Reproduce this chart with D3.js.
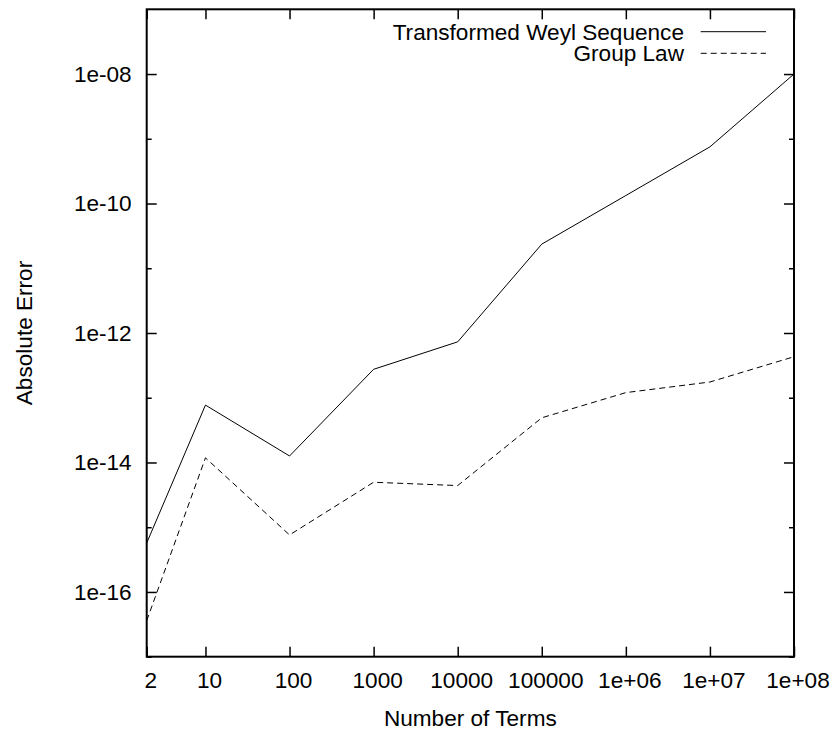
<!DOCTYPE html>
<html>
<head>
<meta charset="utf-8">
<script src="https://cdn.jsdelivr.net/npm/d3@7"></script>
<style>
  body { margin: 0; background: #fff; }
  svg { display: block; font-family: "Liberation Sans", Arial, Helvetica, sans-serif; }
  .axis text { font-size: 22.6px; fill: #000; }
  .axis line { stroke: #000; stroke-width: 1.5; }
</style>
</head>
<body>
<script>
const terms = [2, 10, 100, 1000, 10000, 100000, 1e6, 1e7, 1e8];
const termLabels = ["2", "10", "100", "1000", "10000", "100000", "1e+06", "1e+07", "1e+08"];
const weylError = [5.7e-16, 7.7e-14, 1.26e-14, 2.75e-13, 7.3e-13, 2.36e-11, 1.33e-10, 7.5e-10, 1.0e-8];
const groupLawError = [3.6e-17, 1.18e-14, 7.6e-16, 4.95e-15, 4.4e-15, 4.9e-14, 1.2e-13, 1.75e-13, 4.3e-13];
const yMajorTicks = [1e-16, 1e-14, 1e-12, 1e-10, 1e-8];
const yMinorTicks = [1e-17, 1e-15, 1e-13, 1e-11, 1e-9];
const seriesNames = ["Transformed Weyl Sequence", "Group Law"];

const width = 834;
const height = 731;
const plotLeft = 146.7, plotRight = 794, plotTop = 9.3, plotBottom = 656.7;

const svg = d3.select("body")
  .append("svg")
  .attr("width", width)
  .attr("height", height);

const x = d3.scaleLog().domain([2, 1e8]).range([plotLeft, plotRight]);
const y = d3.scaleLog().domain([1e-17, 1e-7]).range([plotBottom, plotTop]);

function expLabel(d) {
  const e = Math.round(Math.log10(d));
  const a = Math.abs(e);
  return "1e" + (e < 0 ? "-" : "+") + (a < 10 ? "0" + a : a);
}

// bottom axis with labels, ticks pointing inward
const xAxis = svg.append("g")
  .attr("class", "axis")
  .attr("transform", `translate(0,${plotBottom})`)
  .call(d3.axisBottom(x)
    .tickValues(terms)
    .tickFormat((d, i) => termLabels[i])
    .tickSizeInner(-10)
    .tickSizeOuter(0)
    .tickPadding(15.5));
xAxis.selectAll("text").attr("dx", 3.5);

svg.append("g")
  .attr("class", "axis")
  .attr("transform", `translate(0,${plotTop})`)
  .call(d3.axisTop(x).tickValues(terms).tickFormat("").tickSizeInner(-10).tickSizeOuter(0));

svg.append("g")
  .attr("class", "axis")
  .attr("transform", `translate(${plotLeft},0)`)
  .call(d3.axisLeft(y)
    .tickValues(yMajorTicks)
    .tickFormat(expLabel)
    .tickSizeInner(-10)
    .tickSizeOuter(0)
    .tickPadding(15));

svg.append("g")
  .attr("class", "axis")
  .attr("transform", `translate(${plotLeft},0)`)
  .call(d3.axisLeft(y).tickValues(yMinorTicks).tickFormat("").tickSizeInner(-5).tickSizeOuter(0));

svg.append("g")
  .attr("class", "axis")
  .attr("transform", `translate(${plotRight},0)`)
  .call(d3.axisRight(y).tickValues(yMajorTicks).tickFormat("").tickSizeInner(-10).tickSizeOuter(0));

svg.append("g")
  .attr("class", "axis")
  .attr("transform", `translate(${plotRight},0)`)
  .call(d3.axisRight(y).tickValues(yMinorTicks).tickFormat("").tickSizeInner(-5).tickSizeOuter(0));

svg.selectAll(".axis .domain").remove();

// frame
svg.append("rect")
  .attr("x", plotLeft)
  .attr("y", plotTop)
  .attr("width", plotRight - plotLeft)
  .attr("height", plotBottom - plotTop)
  .attr("fill", "none")
  .attr("stroke", "#000")
  .attr("stroke-width", 2);

const line = d3.line()
  .x(d => x(d.t))
  .y(d => y(d.v));

const series = [
  { name: seriesNames[0], values: weylError, dash: null },
  { name: seriesNames[1], values: groupLawError, dash: "6,4" }
];

series.forEach(function(s) {
  svg.append("path")
    .datum(terms.map((t, i) => ({ t: t, v: s.values[i] })))
    .attr("d", line)
    .attr("fill", "none")
    .attr("stroke", "#000")
    .attr("stroke-width", 1)
    .attr("stroke-dasharray", s.dash);
});

// legend
const legend = svg.append("g");
series.forEach(function(s, i) {
  const ly = 31.7 + i * 21.6;
  legend.append("text")
    .attr("x", 684)
    .attr("y", ly)
    .attr("dy", "0.35em")
    .attr("text-anchor", "end")
    .style("font-size", "22.6px")
    .text(s.name);
  legend.append("line")
    .attr("x1", 700.7)
    .attr("x2", 766)
    .attr("y1", ly)
    .attr("y2", ly)
    .attr("stroke", "#000")
    .attr("stroke-width", 1)
    .attr("stroke-dasharray", s.dash);
});

// axis titles
svg.append("text")
  .attr("x", (plotLeft + plotRight) / 2)
  .attr("y", 726)
  .attr("text-anchor", "middle")
  .style("font-size", "22.6px")
  .text("Number of Terms");

svg.append("text")
  .attr("transform", `translate(32,${(plotTop + plotBottom) / 2}) rotate(-90)`)
  .attr("text-anchor", "middle")
  .style("font-size", "22.6px")
  .text("Absolute Error");
</script>
</body>
</html>
